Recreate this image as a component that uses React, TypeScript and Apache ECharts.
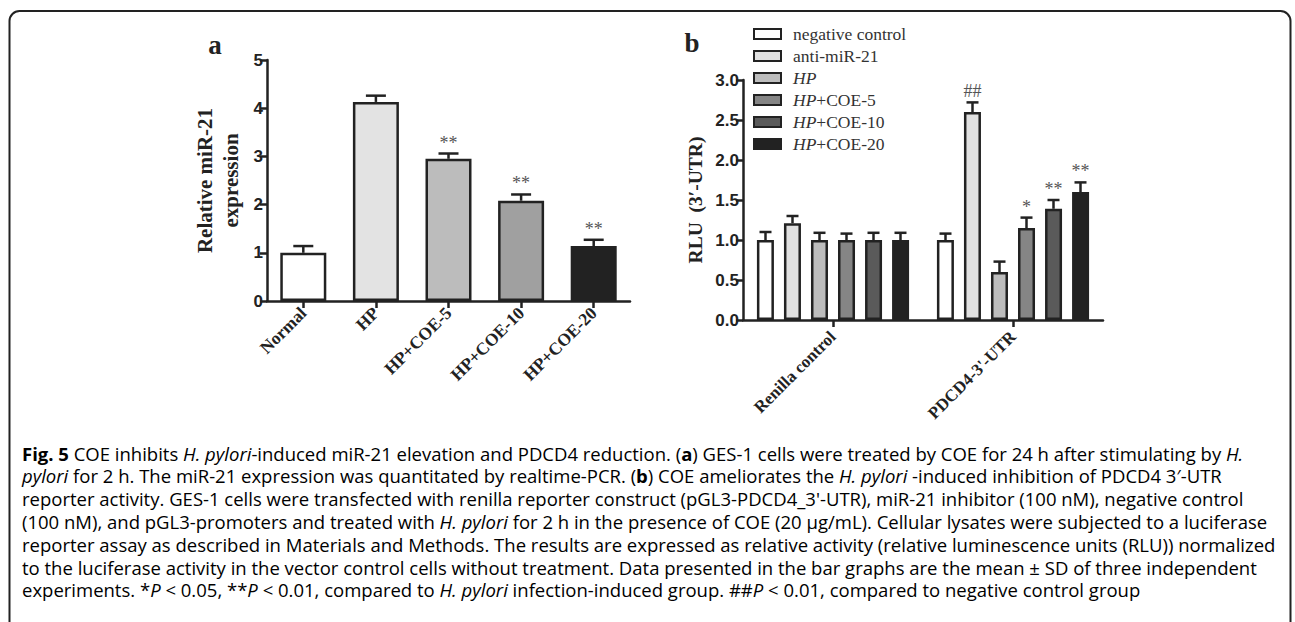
import React, { useEffect, useRef } from 'react';
import * as echarts from 'echarts';

// Panel a
const catsA = ['Normal', 'HP', 'HP+COE-5', 'HP+COE-10', 'HP+COE-20'];
const valsA = [1.0, 4.13, 2.95, 2.08, 1.14];
const errA = [0.14, 0.13, 0.11, 0.13, 0.13];
const sigA = ['', '', '**', '**', '**'];
const colorsA = ['#ffffff', '#e3e3e3', '#bcbcbc', '#a0a0a0', '#222222'];

// Panel b
const catsB = ['Renilla control', "PDCD4-3'-UTR"];
const namesB = ['negative control', 'anti-miR-21', 'HP', 'HP+COE-5', 'HP+COE-10', 'HP+COE-20'];
const valsB = [
  [1.0, 1.0],
  [1.21, 2.6],
  [1.0, 0.6],
  [1.0, 1.15],
  [1.0, 1.39],
  [1.0, 1.6],
];
const errB = [
  [0.1, 0.08],
  [0.09, 0.12],
  [0.09, 0.13],
  [0.08, 0.13],
  [0.09, 0.11],
  [0.09, 0.12],
];
const sigB = [
  ['', ''],
  ['', '##'],
  ['', ''],
  ['', '*'],
  ['', '**'],
  ['', '**'],
];
const colorsB = ['#ffffff', '#e0e0e0', '#bdbdbd', '#858585', '#5a5a5a', '#222222'];

// Caption: segments [style, text]
const captionLines: [string, string][][] = [
  [['b', 'Fig. 5'], ['n', ' COE inhibits '], ['i', 'H. pylori'], ['n', '-induced miR-21 elevation and PDCD4 reduction. ('], ['b', 'a'], ['n', ') GES-1 cells were treated by COE for 24 h after stimulating by '], ['i', 'H.']],
  [['i', 'pylori'], ['n', ' for 2 h. The miR-21 expression was quantitated by realtime-PCR. ('], ['b', 'b'], ['n', ') COE ameliorates the '], ['i', 'H. pylori'], ['n', ' -induced inhibition of PDCD4 3\u2032-UTR']],
  [['n', "reporter activity. GES-1 cells were transfected with renilla reporter construct (pGL3-PDCD4_3'-UTR), miR-21 inhibitor (100 nM), negative control"]],
  [['n', '(100 nM), and pGL3-promoters and treated with '], ['i', 'H. pylori'], ['n', ' for 2 h in the presence of COE (20 \u03bcg/mL). Cellular lysates were subjected to a luciferase']],
  [['n', 'reporter assay as described in Materials and Methods. The results are expressed as relative activity (relative luminescence units (RLU)) normalized']],
  [['n', 'to the luciferase activity in the vector control cells without treatment. Data presented in the bar graphs are the mean \u00b1 SD of three independent']],
  [['n', 'experiments. *'], ['i', 'P'], ['n', ' < 0.05, **'], ['i', 'P'], ['n', ' < 0.01, compared to '], ['i', 'H. pylori'], ['n', ' infection-induced group. ##'], ['i', 'P'], ['n', ' < 0.01, compared to negative control group']],
];

const INK = '#222222';
const SERIF = '"Liberation Serif", "Times New Roman", serif';
const SANS = '"Liberation Sans", Arial, sans-serif';
const CAP_FONT = '"Open Sans", sans-serif';
const CAP_SIZE = 18.5;

export default function App() {
  const ref = useRef<HTMLDivElement>(null);

  useEffect(() => {
    if (!ref.current) return;
    const chart = echarts.init(ref.current, null, { renderer: 'svg' });

    const errRender = (vals: number[], errs: number[], sigs: string[], offset: number, capW: number) =>
      (params: any, api: any) => {
        const i = params.dataIndex;
        const p0 = api.coord([i, vals[i]]);
        const p1 = api.coord([i, vals[i] + errs[i]]);
        const cx = p0[0] + offset;
        const children: any[] = [
          { type: 'line', shape: { x1: cx, y1: p0[1], x2: cx, y2: p1[1] }, style: { stroke: INK, lineWidth: 2.5 } },
          { type: 'line', shape: { x1: cx - capW / 2, y1: p1[1], x2: cx + capW / 2, y2: p1[1] }, style: { stroke: INK, lineWidth: 2.5 } },
        ];
        if (sigs[i]) {
          children.push({
            type: 'text',
            x: cx,
            y: p1[1] - 2,
            style: {
              text: sigs[i],
              fill: '#555',
              font: `18px ${SERIF}`,
              align: 'center',
              verticalAlign: 'bottom',
            },
          });
        }
        return { type: 'group', children };
      };

    const seriesA: any[] = [
      {
        type: 'bar',
        name: 'A',
        xAxisIndex: 0,
        yAxisIndex: 0,
        barWidth: 46,
        data: valsA.map((v, i) => ({ value: v, itemStyle: { color: colorsA[i] } })),
        itemStyle: { borderColor: INK, borderWidth: 2.5 },
        z: 2,
      },
      {
        type: 'custom',
        name: 'errA',
        xAxisIndex: 0,
        yAxisIndex: 0,
        data: valsA.map((v, i) => [i, v + errA[i]]),
        renderItem: errRender(valsA, errA, sigA, 0, 20),
        z: 3,
      },
    ];

    const step = 27;
    const seriesB: any[] = [];
    namesB.forEach((name, s) => {
      seriesB.push({
        type: 'bar',
        name,
        xAxisIndex: 1,
        yAxisIndex: 1,
        barWidth: 17,
        barGap: '59%',
        data: valsB[s],
        itemStyle: { color: colorsB[s], borderColor: INK, borderWidth: 2.5 },
        z: 2,
      });
    });
    namesB.forEach((name, s) => {
      seriesB.push({
        type: 'custom',
        name: 'err' + s,
        xAxisIndex: 1,
        yAxisIndex: 1,
        data: valsB[s].map((v, i) => [i, v + errB[s][i]]),
        renderItem: errRender(valsB[s], errB[s], sigB[s], (s - 2.5) * step, 12),
        z: 3,
      });
    });

    const yAxisCommon = {
      type: 'value',
      splitLine: { show: false },
      axisLine: { show: true, lineStyle: { color: INK, width: 2.5 } },
      axisTick: { show: true, length: 7, lineStyle: { color: INK, width: 2.5 } },
      axisLabel: { color: INK, fontFamily: SANS, fontWeight: 'bold', fontSize: 17, margin: 4 },
      nameLocation: 'middle',
      nameRotate: 90,
    };
    const xAxisCommon = {
      type: 'category',
      axisLine: { show: true, lineStyle: { color: INK, width: 2.5 } },
      axisTick: { show: true, alignWithLabel: true, length: 7, lineStyle: { color: INK, width: 2.5 } },
    };

    const richCap = {
      n: { fontFamily: CAP_FONT, fontSize: CAP_SIZE, color: '#222' },
      b: { fontFamily: CAP_FONT, fontSize: CAP_SIZE, fontWeight: 'bold', color: '#222' },
      i: { fontFamily: CAP_FONT, fontSize: CAP_SIZE, fontStyle: 'italic', color: '#222' },
    };
    const captionGraphics = captionLines.map((line, k) => ({
      type: 'text',
      x: 22,
      y: 453 + k * 22.8,
      style: {
        text: line.map(([st, t]) => `{${st}|${t}}`).join(''),
        rich: richCap,
        verticalAlign: 'middle',
        align: 'left',
      },
    }));

    chart.setOption({
      animation: false,
      backgroundColor: '#ffffff',
      grid: [
        { left: 267, top: 60, width: 363, height: 241 },
        { left: 743, top: 80, width: 360, height: 240 },
      ],
      xAxis: [
        {
          ...xAxisCommon,
          gridIndex: 0,
          data: catsA,
          axisLabel: { color: INK, fontFamily: SERIF, fontWeight: 'bold', fontSize: 17.5, rotate: 45, margin: 9, interval: 0 },
        },
        {
          ...xAxisCommon,
          gridIndex: 1,
          data: catsB,
          axisLabel: { color: INK, fontFamily: SERIF, fontWeight: 'bold', fontSize: 17, rotate: 45, margin: 14, interval: 0 },
        },
      ],
      yAxis: [
        {
          ...yAxisCommon,
          gridIndex: 0,
          min: 0,
          max: 5,
          interval: 1,
          name: 'Relative miR-21\nexpression',
          nameGap: 23,
          nameTextStyle: { color: INK, fontFamily: SERIF, fontWeight: 'bold', fontSize: 21, lineHeight: 26 },
        },
        {
          ...yAxisCommon,
          gridIndex: 1,
          min: 0,
          max: 3,
          interval: 0.5,
          name: 'RLU  (3\u2032-UTR)',
          nameGap: 38,
          nameTextStyle: { color: INK, fontFamily: SERIF, fontWeight: 'bold', fontSize: 19.5 },
          axisLabel: { ...yAxisCommon.axisLabel, formatter: (v: number) => v.toFixed(1) },
        },
      ],
      legend: {
        data: namesB,
        orient: 'vertical',
        left: 753,
        top: 25,
        padding: 0,
        itemWidth: 27,
        itemHeight: 10,
        itemGap: 4,
        icon: 'rect',
        textStyle: {
          color: '#333',
          fontFamily: SERIF,
          fontSize: 17,
          padding: [0, 0, 0, 7],
          rich: {
            i: { fontFamily: SERIF, fontSize: 17.5, fontStyle: 'italic', color: '#333' },
            n: { fontFamily: SERIF, fontSize: 17.5, color: '#333' },
          },
        },
        formatter: (name: string) =>
          name.startsWith('HP') ? `{i|HP}{n|${name.slice(2)}}` : `{n|${name}}`,
      },
      graphic: [
        {
          type: 'rect',
          shape: { x: 9.5, y: 11, width: 1281, height: 700, r: 10 },
          style: { fill: 'none', stroke: INK, lineWidth: 2 },
          silent: true,
        },
        {
          type: 'text',
          x: 215,
          y: 45,
          style: { text: 'a', font: `bold 27px ${SERIF}`, fill: INK, align: 'center', verticalAlign: 'middle' },
        },
        {
          type: 'text',
          x: 692,
          y: 43,
          style: { text: 'b', font: `bold 27px ${SERIF}`, fill: INK, align: 'center', verticalAlign: 'middle' },
        },
        ...captionGraphics,
      ],
      series: [...seriesA, ...seriesB],
    });

    return () => chart.dispose();
  }, []);

  return (
    <div
      ref={ref}
      style={{ position: 'fixed', left: 0, top: 0, width: 1295, height: 622, background: '#fff' }}
    />
  );
}
